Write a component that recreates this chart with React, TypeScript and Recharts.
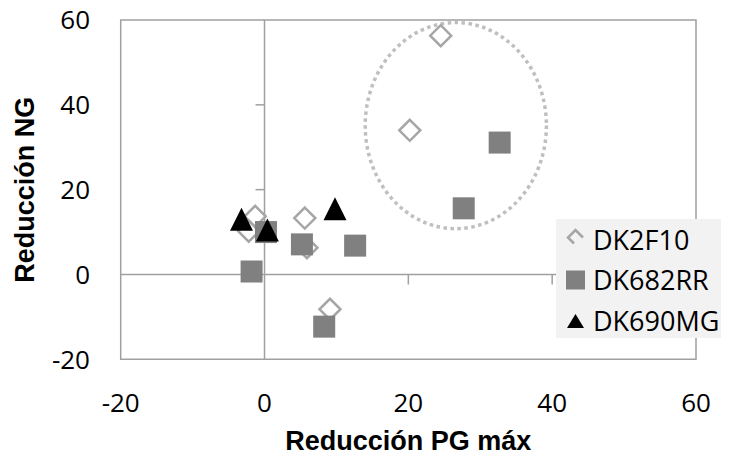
import React from 'react';
import {
  ScatterChart,
  Scatter,
  XAxis,
  YAxis,
  ReferenceLine,
  ReferenceArea,
  ReferenceDot,
  Legend,
  Label,
} from 'recharts';

// tick values
const xTicks = [-20, 0, 20, 40, 60];
const yTicks = [-20, 0, 20, 40, 60];
// small tick marks drawn on the zero lines
const innerXTicks = [20, 40];
const innerYTicks = [20, 40];

// series
const dk2f10 = [
  { x: -1.3, y: 13.7 },
  { x: -2.2, y: 10.2 },
  { x: 5.6, y: 13.3 },
  { x: 5.9, y: 6.3 },
  { x: 9.1, y: -8.2 },
  { x: 20.2, y: 34.0 },
  { x: 24.5, y: 56.3 },
];
const dk682rr = [
  { x: -1.8, y: 0.7 },
  { x: 0.2, y: 10.0 },
  { x: 5.2, y: 7.1 },
  { x: 12.6, y: 6.8 },
  { x: 8.3, y: -12.3 },
  { x: 32.7, y: 31.1 },
  { x: 27.7, y: 15.6 },
];
const dk690mg = [
  { x: -3.2, y: 13.0 },
  { x: 0.4, y: 10.5 },
  { x: 9.8, y: 15.5 },
];

// dotted ellipse around the high-reduction group (data extent)
const ellipseBox = { x1: 14.0, x2: 39.2, y1: 10.8, y2: 59.4 };

const seriesNames = ['DK2F10', 'DK682RR', 'DK690MG'];

const AXIS_GRAY = '#a0a0a0';
const DIAMOND_GRAY = '#a6a6a6';
const SQUARE_GRAY = '#808080';
const TICK_FONT = { fill: '#000', fontSize: 26, fontFamily: '"Open Sans", sans-serif' };
const TITLE_FONT = '"Liberation Sans", Arial, sans-serif';

const DiamondShape = (props: any) => {
  const { cx, cy } = props;
  const r = 10.5;
  return (
    <path
      d={`M${cx},${cy - r}L${cx + r},${cy}L${cx},${cy + r}L${cx - r},${cy}Z`}
      fill="none"
      stroke={DIAMOND_GRAY}
      strokeWidth={2.5}
    />
  );
};

const SquareShape = (props: any) => {
  const { cx, cy } = props;
  return <rect x={cx - 11} y={cy - 11} width={22} height={22} fill={SQUARE_GRAY} />;
};

const TriangleShape = (props: any) => {
  const { cx, cy } = props;
  const h = 11.5;
  return <path d={`M${cx},${cy - h}L${cx + h},${cy + h}L${cx - h},${cy + h}Z`} fill="#000" />;
};

const EllipseShape = (props: any) => {
  const { x, y, width, height } = props;
  return (
    <ellipse
      cx={x + width / 2}
      cy={y + height / 2}
      rx={width / 2}
      ry={height / 2}
      fill="none"
      stroke="#bfbfbf"
      strokeWidth={3.5}
      strokeDasharray="3.5 3.5"
    />
  );
};

const legendIcon = (i: number) => {
  const c = 19.5;
  if (i === 0) {
    const cy = 17.5;
    return (
      <path
        d={`M${c + 7.5},${cy}L${c},${cy - 7.5}L${c - 7.5},${cy}L${c - 1.5},${cy + 6}`}
        fill="none"
        stroke={DIAMOND_GRAY}
        strokeWidth={2.5}
      />
    );
  }
  if (i === 1) return <rect x={c - 9.5} y={10.5} width={19} height={19} fill={SQUARE_GRAY} />;
  return <path d={`M${c},${13}L${c + 8.5},${27}L${c - 8.5},${27}Z`} fill="#000" />;
};

const CustomLegend = () => (
  <div style={{ background: '#f2f2f2', width: 173, height: 119, boxSizing: 'border-box' }}>
    {seriesNames.map((name, i) => (
      <div key={name} style={{ display: 'flex', alignItems: 'center', height: 40.8 }}>
        <svg width={37} height={40} style={{ flex: 'none' }}>
          {legendIcon(i)}
        </svg>
        <span style={{ fontFamily: '"Open Sans", sans-serif', fontSize: 27, color: '#000', lineHeight: '40px' }}>
          {name}
        </span>
      </div>
    ))}
  </div>
);

const XTitle = (props: any) => {
  const vb = props.viewBox || {};
  return (
    <text
      x={vb.x + vb.width / 2}
      y={vb.y + vb.height - 10}
      textAnchor="middle"
      fontFamily={TITLE_FONT}
      fontWeight="bold"
      fontSize={27}
      fill="#000"
    >
      Reducción PG máx
    </text>
  );
};

const YTitle = (props: any) => {
  const vb = props.viewBox || {};
  const x = (vb.x || 0) + 34;
  const y = vb.y + vb.height / 2;
  return (
    <text
      x={x}
      y={y}
      transform={`rotate(-90 ${x} ${y})`}
      textAnchor="middle"
      fontFamily={TITLE_FONT}
      fontWeight="bold"
      fontSize={27}
      fill="#000"
    >
      Reducción NG
    </text>
  );
};

export default function App() {
  return (
    <div style={{ width: 729, height: 460, marginLeft: -8, marginTop: -8 }}>
      <ScatterChart width={729} height={460} margin={{ top: 20, right: 33, bottom: 0, left: 0 }}>
        <XAxis
          type="number"
          dataKey="x"
          domain={[-20, 60]}
          ticks={xTicks}
          axisLine={false}
          tickLine={false}
          tickSize={6}
          tickMargin={28}
          height={100.7}
          tick={TICK_FONT}
          allowDataOverflow
        >
          <Label content={<XTitle />} />
        </XAxis>
        <YAxis
          type="number"
          dataKey="y"
          domain={[-20, 60]}
          ticks={yTicks}
          axisLine={false}
          tickLine={false}
          tickSize={6}
          tickMargin={24.7}
          width={120.7}
          tick={TICK_FONT}
          allowDataOverflow
        >
          <Label content={<YTitle />} />
        </YAxis>

        <ReferenceArea x1={-20} x2={60} y1={-20} y2={60} fill="none" stroke={AXIS_GRAY} strokeWidth={1.5} />
        <ReferenceLine x={0} stroke={AXIS_GRAY} strokeWidth={1.5} />
        <ReferenceLine y={0} stroke={AXIS_GRAY} strokeWidth={1.5} />
        {innerYTicks.map((v) => (
          <ReferenceDot
            key={`yt-${v}`}
            x={0}
            y={v}
            r={0}
            shape={(p: any) => (
              <line x1={p.cx - 9} y1={p.cy} x2={p.cx} y2={p.cy} stroke={AXIS_GRAY} strokeWidth={1.5} />
            )}
          />
        ))}
        {innerXTicks.map((v) => (
          <ReferenceDot
            key={`xt-${v}`}
            x={v}
            y={0}
            r={0}
            shape={(p: any) => (
              <line x1={p.cx} y1={p.cy} x2={p.cx} y2={p.cy + 10} stroke={AXIS_GRAY} strokeWidth={1.5} />
            )}
          />
        ))}
        <ReferenceArea
          x1={ellipseBox.x1}
          x2={ellipseBox.x2}
          y1={ellipseBox.y1}
          y2={ellipseBox.y2}
          shape={<EllipseShape />}
        />

        <Scatter name="DK2F10" data={dk2f10} shape={<DiamondShape />} isAnimationActive={false} />
        <Scatter name="DK682RR" data={dk682rr} shape={<SquareShape />} isAnimationActive={false} />
        <Scatter name="DK690MG" data={dk690mg} shape={<TriangleShape />} isAnimationActive={false} />

        <Legend
          layout="vertical"
          align="center"
          verticalAlign="middle"
          content={<CustomLegend />}
          wrapperStyle={{ position: 'absolute', left: 556, top: 219.3, width: 173, height: 119 }}
        />
      </ScatterChart>
    </div>
  );
}
